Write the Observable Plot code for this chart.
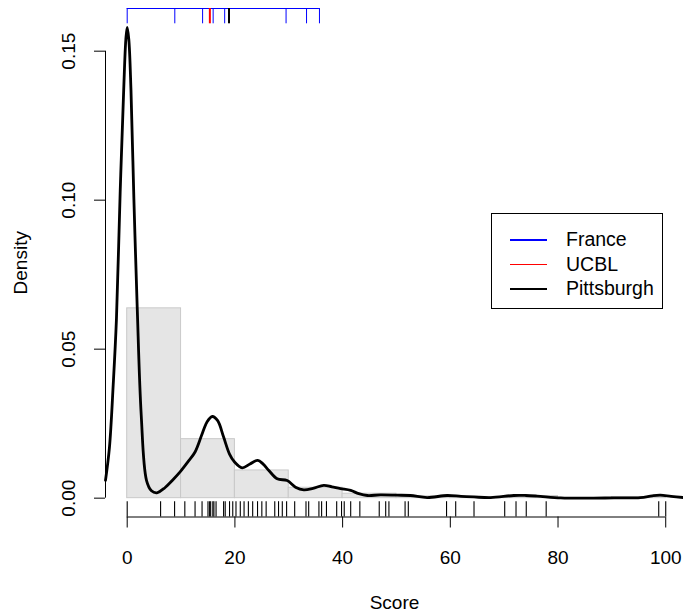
<!DOCTYPE html>
<html>
<head>
<meta charset="utf-8">
<script src="https://cdn.jsdelivr.net/npm/d3@7"></script>
<script src="https://cdn.jsdelivr.net/npm/@observablehq/plot@0.6"></script>
<style>
  html, body { margin: 0; padding: 0; background: #fff; }
  #wrap { position: relative; width: 683px; height: 612px; font-family: "Liberation Sans", Arial, Helvetica, sans-serif; }
  #legend { position: absolute; left: 491px; top: 213px; width: 172px; height: 96px; border: 1px solid #000; background: #fff; box-sizing: border-box; }
  .row { position: absolute; left: 0; height: 24px; }
  .sw { position: absolute; left: 18px; width: 37px; height: 1.5px; top: 12px; }
  .lab { position: absolute; left: 74px; top: 0; font-size: 19.5px; line-height: 24px; white-space: nowrap; color: #000; }
</style>
</head>
<body>
<div id="wrap"></div>
<script>
// ---- data ----
const xTicks = [0, 20, 40, 60, 80, 100];
const yTicks = [0, 0.05, 0.10, 0.15];

const binStarts = [0, 10, 20, 30, 40, 50, 60, 70, 80, 90];
const binWidth = 10;
const histDensity = [0.0637, 0.0198, 0.0093, 0.0035, 0.0015, 0.0006, 0.0004, 0.0007, 0.0, 0.0004];

const densX = [-4.03, -3.3, -2.6, -2.0, -1.3, -0.65, -0.25, 0, 0.3, 0.7, 1.24, 1.86, 2.6, 3.58, 4.5, 5.5,
  7, 8.5, 9.9, 11.4, 12.6, 13.8, 14.8, 15.8, 16.8, 17.9, 19.0, 19.9, 21.35, 22.8, 24.25, 25.2, 26.3, 27.85, 29.7, 31.25, 32.8,
  34.5, 36.5, 38, 39.6, 41.5, 43, 44.6, 47, 50.1, 52.6, 55.7, 59.4, 62, 64.4, 67.5, 71.8, 74, 76.1, 80.5, 85, 90.4, 95.3,
  97.5, 99, 101, 103.3];
const densY = [0.006, 0.017, 0.038, 0.060, 0.103, 0.137, 0.154, 0.158, 0.154, 0.137, 0.1005, 0.064, 0.028, 0.006, 0.0025, 0.0018,
  0.0035, 0.0062, 0.009, 0.0125, 0.0155, 0.021, 0.0255, 0.0274, 0.026, 0.0205, 0.0148, 0.0122, 0.0102, 0.0115, 0.0127, 0.0115, 0.0093, 0.0065, 0.0059, 0.0037, 0.0028,
  0.0033, 0.0043, 0.0038, 0.0032, 0.0026, 0.0015, 0.0009, 0.0011, 0.001, 0.0009, 0.0002, 0.0009, 0.0006, 0.0004, 0.0002, 0.0009, 0.0009, 0.0007, 0.0001, 0.0, 0.0001, 0.0002,
  0.0008, 0.001, 0.0006, 0.0002];

const rugScores = [0, 6.2, 8.8, 10.7, 12.6, 13.9, 15.0, 15.3, 15.5, 15.9, 16.1, 16.5, 17.9, 18.2, 19.0, 19.6, 20.2, 21.0, 21.7, 22.5,
  23.3, 24.2, 25.0, 25.8, 27.4, 28.1, 28.8, 29.6, 31.1, 33.2, 33.7, 35.6, 36.1, 37.0, 38.9, 39.8, 40.3, 41.5, 43.2,
  46.8, 48.0, 48.6, 51.6, 52.2, 59.3, 61.0, 64.4, 70.1, 72.2, 74.1, 77.8, 98.7, 100];

const franceScores = [0, 8.84, 14.0, 15.96, 18.1, 29.5, 33.3, 35.7];
const ucblScores = [15.35];
const pittsburghScores = [18.9];

const legendLabels = ["France", "UCBL", "Pittsburgh"];
const legendColors = ["#0000ff", "#ff0000", "#000000"];

// ---- layout ----
const W = 683, H = 612;
const mL = 105, mR = 0, mT = 8, mB = 95.5;
const xDomain = [-4.03, 103.3];
const yDomain = [-0.00632, 0.16432];
const uX = (xDomain[1] - xDomain[0]) / (W - mL - mR);   // data units per px
const uY = (yDomain[1] - yDomain[0]) / (H - mT - mB);
const rugLen = 15.3, tickLen = 11;

const bins = binStarts.map((s, i) => ({x1: s, x2: s + binWidth, y: histDensity[i]}));
const dens = densX.map((x, i) => ({x, y: densY[i]}));
const font = "Liberation Sans, Arial, Helvetica, sans-serif";

const chart = Plot.plot({
  width: W, height: H,
  marginLeft: mL, marginRight: mR, marginTop: mT, marginBottom: mB,
  x: {domain: xDomain, axis: null},
  y: {domain: yDomain, axis: null},
  style: {fontFamily: font, background: "white", overflow: "visible"},
  marks: [
    Plot.rectY(bins, {x1: "x1", x2: "x2", y1: 0, y2: "y", fill: "#e5e5e5", stroke: "#c9c9c9", strokeWidth: 1}),
    Plot.line(dens, {x: "x", y: "y", stroke: "black", strokeWidth: 2.8, curve: "catmull-rom"}),
    // bottom rug + x axis line
    Plot.ruleY([yDomain[0]], {x1: xTicks[0], x2: xTicks[xTicks.length - 1], stroke: "black", strokeWidth: 1}),
    Plot.ruleX(rugScores, {x: d => d, y1: yDomain[0], y2: yDomain[0] + rugLen * uY, stroke: "black", strokeWidth: 1.1}),
    Plot.ruleX(xTicks, {x: d => d, y1: yDomain[0], y2: yDomain[0] - tickLen * uY, stroke: "black", strokeWidth: 1}),
    Plot.text(xTicks, {x: d => d, text: d => String(d), frameAnchor: "bottom", dy: 40.5, lineAnchor: "middle", fontSize: 19, fill: "black"}),
    // y axis
    Plot.ruleX([xDomain[0]], {y1: yTicks[0], y2: yTicks[yTicks.length - 1], stroke: "black", strokeWidth: 1}),
    Plot.ruleY(yTicks, {y: d => d, x1: xDomain[0], x2: xDomain[0] - tickLen * uX, stroke: "black", strokeWidth: 1}),
    Plot.text(yTicks, {y: d => d, text: d => d.toFixed(2), frameAnchor: "left", dx: -37, rotate: -90, textAnchor: "middle", lineAnchor: "middle", fontSize: 19, fill: "black"}),
    // top rugs
    Plot.ruleY([yDomain[1]], {x1: d3.min(franceScores), x2: d3.max(franceScores), stroke: "#0000ff", strokeWidth: 1}),
    Plot.ruleX(franceScores, {x: d => d, y1: yDomain[1], y2: yDomain[1] - rugLen * uY, stroke: "#0000ff", strokeWidth: 1}),
    Plot.ruleX(ucblScores, {x: d => d, y1: yDomain[1], y2: yDomain[1] - rugLen * uY, stroke: "#ff0000", strokeWidth: 2}),
    Plot.ruleX(pittsburghScores, {x: d => d, y1: yDomain[1], y2: yDomain[1] - rugLen * uY, stroke: "#000000", strokeWidth: 2}),
    // axis titles
    Plot.text(["Score"], {text: d => d, frameAnchor: "bottom", dy: 85.5, lineAnchor: "middle", fontSize: 19, fill: "black"}),
    Plot.text(["Density"], {text: d => d, frameAnchor: "left", dx: -85, rotate: -90, textAnchor: "middle", lineAnchor: "middle", fontSize: 19, fill: "black"})
  ]
});

const wrap = document.getElementById("wrap");
wrap.appendChild(chart);

// legend
const leg = document.createElement("div");
leg.id = "legend";
legendLabels.forEach((lab, i) => {
  const row = document.createElement("div");
  row.className = "row";
  row.style.top = (13 + i * 24.5) + "px";
  row.style.width = "100%";
  const sw = document.createElement("div");
  sw.className = "sw";
  sw.style.backgroundColor = legendColors[i];
  const t = document.createElement("div");
  t.className = "lab";
  t.textContent = lab;
  row.appendChild(sw);
  row.appendChild(t);
  leg.appendChild(row);
});
wrap.appendChild(leg);
</script>
</body>
</html>
